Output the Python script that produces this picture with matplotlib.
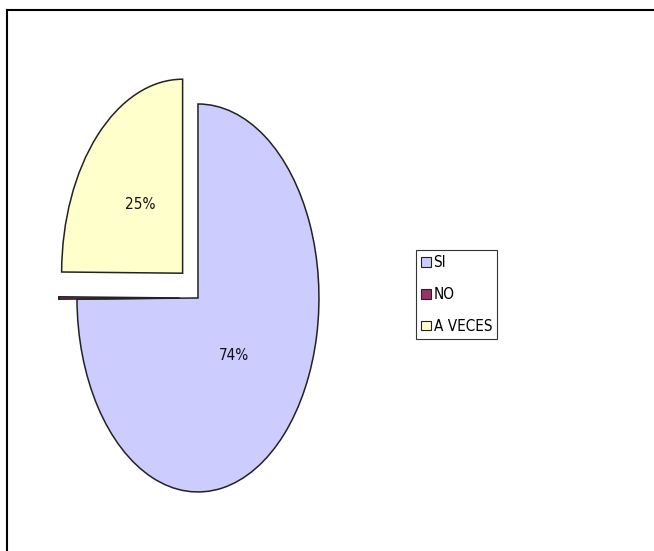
import matplotlib
matplotlib.use("Agg")
import matplotlib.pyplot as plt
from matplotlib.lines import Line2D
import numpy as np

# Data
categories = ["SI", "NO", "A VECES"]
sizes = [74.9, 0.2, 24.9]
pct_labels = ["74%", "", "25%"]
colors = ["#CCCCFF", "#993366", "#FFFFCC"]
explode = [0, 0.15, 0.18]

plt.rcParams["font.family"] = ["DejaVu Sans"]
plt.rcParams["font.stretch"] = "condensed"

fig = plt.figure(figsize=(6.54, 5.51), dpi=100)
ax = fig.add_axes([0.0622, 0.0015, 0.481, 0.9154])

wedges, texts = ax.pie(
    sizes,
    colors=colors,
    explode=explode,
    startangle=90,
    counterclock=False,
    wedgeprops=dict(edgecolor="#222222", linewidth=1.1),
)
ax.set_aspect("auto")
ax.set_xlim(-1.3, 1.3)
ax.set_ylim(-1.3, 1.3)

# Percent labels
for w, lab, d in zip(wedges, pct_labels, [0.42, 0, 0.5]):
    if not lab:
        continue
    ang = np.deg2rad((w.theta1 + w.theta2) / 2)
    cx, cy = w.center
    ax.text(cx + d * np.cos(ang), cy + d * np.sin(ang), lab,
            ha="center", va="center", fontsize=11, color="#111111")

# Legend
handles = [plt.Rectangle((0, 0), 1, 1, facecolor=c, edgecolor="#222222", linewidth=0.8)
           for c in colors]
leg = fig.legend(handles, categories, loc="upper left",
                 bbox_to_anchor=(416 / 654, 1 - 250 / 551),
                 fontsize=11, frameon=True, fancybox=False,
                 handlelength=0.6, handleheight=0.6, handletextpad=0.2,
                 labelspacing=1.1, borderpad=0.35, borderaxespad=0)
leg.get_frame().set_edgecolor("black")
leg.get_frame().set_linewidth(0.8)

# Outer frame (top and left edges visible)
fig.add_artist(Line2D([7 / 654, 1], [1 - 10 / 551, 1 - 10 / 551],
                      transform=fig.transFigure, color="black", linewidth=1.5))
fig.add_artist(Line2D([7 / 654, 7 / 654], [0, 1 - 10 / 551],
                      transform=fig.transFigure, color="black", linewidth=1.5))

fig.savefig("out.png", dpi=100)
